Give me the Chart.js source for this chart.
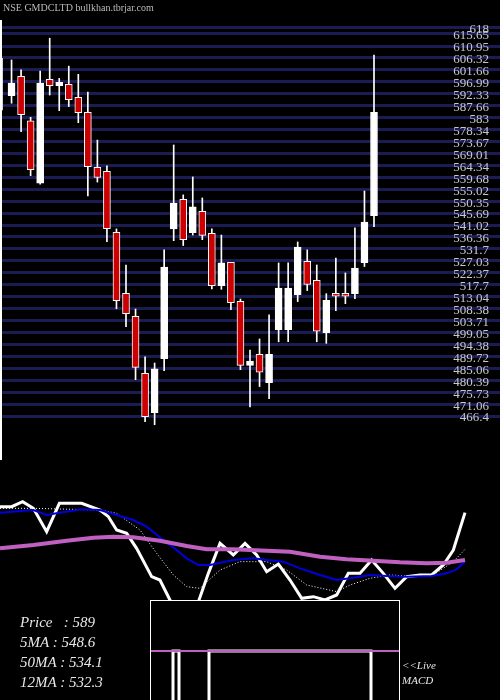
<!DOCTYPE html>
<html><head><meta charset="utf-8">
<script src="https://cdn.jsdelivr.net/npm/chart.js@4.4.0/dist/chart.umd.min.js"></script>
<style>
body{margin:0;background:#000;width:500px;height:700px;overflow:hidden;position:relative;font-family:"Liberation Serif",serif;}
#title{position:absolute;left:3px;top:2px;color:#bbb;font-size:10px;}
#top{position:absolute;left:0;top:0;width:500px;height:440px;}
#leftline{position:absolute;left:0;top:20px;width:2px;height:440px;background:#fff;}
#low{position:absolute;left:0;top:490px;width:500px;height:210px;}
#macdbox{position:absolute;left:150px;top:600px;width:248px;height:100px;border:1px solid #fff;border-bottom:none;background:#000;}
#info{position:absolute;left:20px;top:612px;color:#e8e8e8;font-style:italic;font-size:15px;line-height:20px;}
#live{position:absolute;left:402px;top:658px;color:#e8e8e8;font-style:italic;font-size:11px;line-height:15px;}
</style></head>
<body>
<div id="top"><canvas id="c1" width="500" height="440"></canvas></div>
<div id="leftline"></div>
<div id="title">NSE GMDCLTD bullkhan.tbrjar.com</div>
<div id="low"><canvas id="c2" width="500" height="210"></canvas></div>
<div id="macdbox"><canvas id="c3" width="248" height="100"></canvas></div>
<div id="info">Price &nbsp;&nbsp;: 589<br>5MA : 548.6<br>50MA : 534.1<br>12MA : 532.3</div>
<div id="live">&lt;&lt;Live<br>MACD</div>
<script>
const opens  = [590.9,591.6,599.1,581.7,557.4,597.9,595.5,596.0,590.9,585.0,563.6,562.0,538.2,514.3,505.3,483.1,467.7,488.8,539.5,551.1,538.0,546.4,537.8,517.3,526.4,511.2,486.2,490.5,479.4,500.1,500.1,513.8,526.8,519.4,499.0,514.3,514.3,514.2,526.3,544.7];
const highs  = [606.1,605.5,601.6,583.1,601.2,614.0,598.3,603.1,599.9,593.0,574.2,564.1,539.5,525.4,508.2,489.5,487.1,531.3,572.3,552.8,559.8,551.6,539.5,537.1,526.4,512.1,492.2,496.5,505.9,526.2,526.2,534.4,531.3,525.4,514.2,528.1,522.3,539.9,554.3,607.4];
const lows   = [586.0,588.6,577.5,560.3,557.0,591.8,585.7,587.3,581.0,552.4,557.8,534.5,508.3,501.3,480.6,464.2,463.0,484.1,534.9,533.0,537.1,535.3,516.1,515.9,507.9,484.5,470.0,477.9,473.2,495.4,495.4,511.1,515.4,495.4,494.8,507.6,510.3,512.2,524.8,540.4];
const closes = [590.1,596.5,584.1,562.6,596.5,595.5,596.0,590.0,584.9,563.8,559.6,539.6,511.5,506.4,485.4,466.1,484.8,524.6,549.6,535.3,548.1,537.0,517.3,526.2,510.7,486.2,487.9,483.5,490.5,516.4,516.4,532.4,517.8,499.5,511.6,513.2,513.2,524.2,542.2,585.0];
const tickLabels = [618,615.65,610.95,606.32,601.66,596.99,592.33,587.66,583,578.34,573.67,569.01,564.34,559.68,555.02,550.35,545.69,541.02,536.36,531.7,527.03,522.37,517.7,513.04,508.38,503.71,499.05,494.38,489.72,485.06,480.39,475.73,471.06,466.4];

const priceLine = [[0,590],[1,590],[1.94,593],[2.86,589],[4,575],[5.09,592],[7,592],[8.57,588],[9.29,584],[10,576],[10.86,574],[11.71,565],[13,548],[13.71,546],[15,528],[16.86,530],[17.86,550],[18.86,568],[20,561],[21,568],[22,561],[22.86,551],[23.86,555.6],[24.86,546],[25.86,535],[26.86,536],[27.86,534],[28.86,537],[29.86,550],[30.86,550],[31.86,558],[32.86,550],[33.86,541],[34.86,548],[36,549],[37,549],[38,555],[38.86,564],[39.86,586.4]];
const ma12 = [[0,586.4],[1,587],[2.86,588],[4,585],[5.09,586.4],[7,588.4],[8.57,588],[10,585],[11.43,582],[12.57,578],[14,570],[15.14,564],[16,559],[17,555],[18,555],[20,558],[21.71,559],[22.86,558],[24.29,557],[25.71,553],[27.43,549],[28.86,546],[30,547],[31.71,549],[33.14,548.4],[34.86,548],[37,548.4],[38.29,550],[39.14,552.4],[39.86,557]];
const ma50 = [[0,565],[2.86,567],[5.71,569.6],[8,571.4],[9.71,572],[11.43,571.6],[13.71,569.6],[16,566.4],[17.71,564.4],[20,564.4],[22.86,563.6],[24.86,563],[27.43,560],[29.71,558.4],[32,557.6],[34.29,556.6],[36.57,556],[38.29,556.4],[39.86,558]];
const ma5 = [[0,589],[2.86,589],[8.57,588],[10,586],[12,576],[13.43,562],[14.86,549],[16,542],[17.14,541],[18.86,552],[20.57,557],[22.86,557],[24.57,552],[26.29,543],[28.86,539],[30,543],[31.71,547],[33.43,549],[35.71,548],[37.14,549],[38.86,557],[39.86,564.4]];
const macdX = [0,22,28,58,220,226,248];
const macdV = [-10,0,-10,0,-10,-10,-10];

const idx = closes.map((_,i)=>i);
const isUp = closes.map((c,i)=>c>=opens[i]);
const pinArea = {id:'pinArea',afterLayout(chart){const a=chart.chartArea;a.left=0;a.right=500;a.top=0;a.bottom=440;a.width=500;a.height=440;
  chart.scales.y.top=0;chart.scales.y.bottom=440;chart.scales.y.height=440;chart.scales.y.configure();
  chart.scales.x.left=0;chart.scales.x.right=500;chart.scales.x.width=500;chart.scales.x.configure();}};
new Chart(document.getElementById('c1'),{
  type:'bar',
  data:{datasets:[
    {data:idx.map(i=>({x:i,y:[lows[i],highs[i]]})),backgroundColor:'#fff',barThickness:1,grouped:false,order:2},
    {data:idx.map(i=>({x:i,y:[opens[i],closes[i]+(Math.abs(closes[i]-opens[i])<1?0.8:0)]})),
     backgroundColor:isUp.map(u=>u?'#fff':'#cc0000'),borderColor:'#fff',borderWidth:1,borderSkipped:false,barThickness:7,grouped:false,order:1}
  ]},
  plugins:[pinArea],
  options:{responsive:false,animation:false,maintainAspectRatio:false,
    layout:{padding:0},
    plugins:{legend:{display:false},tooltip:{enabled:false}},
    scales:{
      x:{type:'linear',offset:false,min:-0.21,max:52.21,display:false},
      y:{position:'right',min:457.03,max:628.93,
        afterBuildTicks:ax=>{ax.ticks=tickLabels.map(v=>({value:v}));},
        grid:{color:'#1c1c55',lineWidth:3,drawTicks:false},border:{display:false},
        ticks:{mirror:true,autoSkip:false,padding:11,labelOffset:2,color:'#c8c8c8',font:{family:'Liberation Serif',size:13},
          callback:v=>String(v)}}
    }}
});

function ds(pts,color,w,dash){return{data:pts.map(p=>({x:p[0],y:p[1]})),borderColor:color,borderWidth:w,borderDash:dash||[],pointRadius:0,tension:0,fill:false};}
new Chart(document.getElementById('c2'),{type:'line',
  data:{datasets:[ds(ma50,'#c060c0',4),ds(ma12,'#0000dd',2),ds(ma5,'#ffffff',1,[1,2]),ds(priceLine,'#ffffff',3)]},
  options:{responsive:false,animation:false,layout:{padding:0},
    plugins:{legend:{display:false},tooltip:{enabled:false}},
    scales:{x:{type:'linear',min:0,max:42.86,display:false},y:{min:474,max:600,display:false}}}
});

new Chart(document.getElementById('c3'),{type:'line',
  data:{datasets:[
    {data:[{x:0,y:0},{x:248,y:0}],borderColor:'#c060c0',borderWidth:2,pointRadius:0},
    {data:macdX.map((x,i)=>({x:x,y:macdV[i]})),borderColor:'#fff',borderWidth:3,pointRadius:0,stepped:true}
  ]},
  options:{responsive:false,animation:false,layout:{padding:0},
    plugins:{legend:{display:false},tooltip:{enabled:false}},
    scales:{x:{type:'linear',min:0,max:248,display:false},y:{min:-5,max:5,display:false}}}
});
</script>
</body></html>
